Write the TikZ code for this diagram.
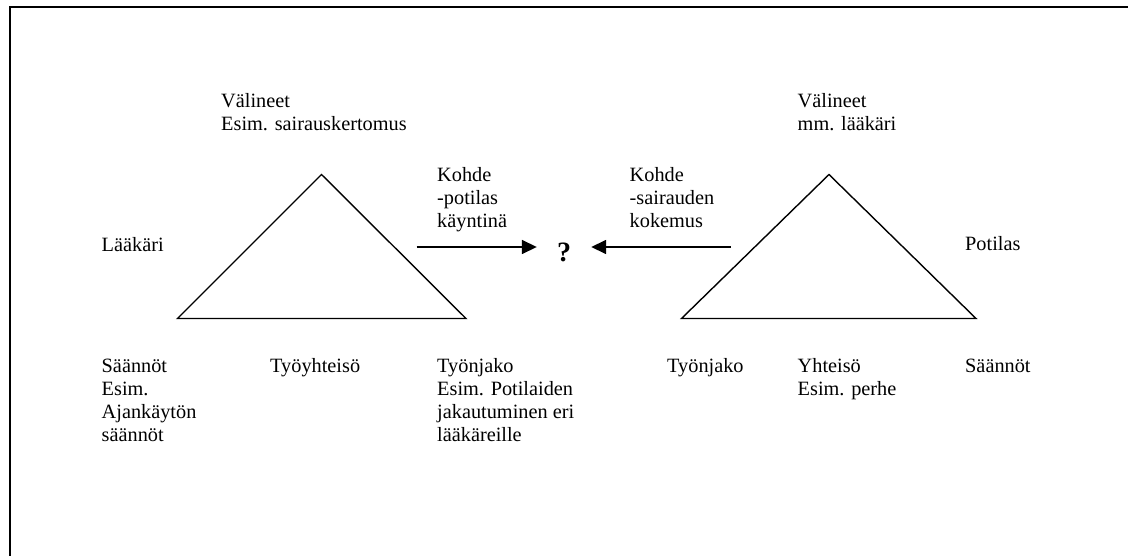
\documentclass[tikz,border=0pt]{standalone}
\usepackage{fontspec}
\setmainfont{Liberation Serif}
\usetikzlibrary{arrows.meta}
\begin{document}
\begin{tikzpicture}[x=1pt,y=-1pt,
  % multi-line labels are placed by the baseline of their last line
  lbl/.style={anchor=base west, align=left, inner sep=0pt,
    font=\fontsize{20.3}{23}\selectfont},
  tri/.style={draw=black, line width=1.4pt, line join=miter},
  link/.style={draw=black, line width=1.6pt, -{Triangle[length=15pt,width=14pt]}},
  frameline/.style={draw=black, line width=2.6pt}]
  \useasboundingbox (0,0) rectangle (1128,556);
  \fill[white] (0,0) rectangle (1128,556);

  % outer frame (only its top and left edges fall inside the page)
  \coordinate (fb) at (10,560);
  \coordinate (fc) at (10,7);
  \coordinate (fr) at (1132,7);
  \draw[frameline] (fb) -- (fc) -- (fr);

  % left activity triangle
  \coordinate (lt) at (321.5,174.5);
  \coordinate (ll) at (177.5,318.5);
  \coordinate (lr) at (466,318.5);
  \draw[tri] (lt) -- (lr) -- (ll) -- cycle;

  % right activity triangle
  \coordinate (rt) at (829,174.5);
  \coordinate (rl) at (681.5,318.5);
  \coordinate (rr) at (976,318.5);
  \draw[tri] (rt) -- (rr) -- (rl) -- cycle;

  % shared object
  \node[inner xsep=20pt, inner ysep=0pt, anchor=base,
    font=\fontsize{28}{30}\selectfont\bfseries] (q) at (564,262) {?};
  \coordinate (kl) at (416.5,247);
  \coordinate (kr) at (730.5,247);
  \draw[link] (kl) -- (kl -| q.west);
  \draw[link] (kr) -- (kr -| q.east);

  % labels of the left system
  \node[lbl] (lv) at (221,130.5) {Välineet\\Esim. sairauskertomus};
  \node[lbl] (ls) at (101.5,252) {Lääkäri};
  \node[lbl] (lk) at (437,228) {Kohde\\-potilas\\käyntinä};
  \node[lbl] (lsa) at (101.5,441) {Säännöt\\Esim.\\Ajankäytön\\säännöt};
  \node[lbl] (ly) at (270,372) {Työyhteisö};
  \node[lbl] (lj) at (437,441) {Työnjako\\Esim. Potilaiden\\jakautuminen eri\\lääkäreille};

  % labels of the right system
  \node[lbl] (rv) at (797.5,130.5) {Välineet\\mm. lääkäri};
  \node[lbl] (rs) at (965,251) {Potilas};
  \node[lbl] (rk) at (629.5,228) {Kohde\\-sairauden\\kokemus};
  \node[lbl] (rj) at (667,372) {Työnjako};
  \node[lbl] (ry) at (797.5,395) {Yhteisö\\Esim. perhe};
  \node[lbl] (rsa) at (965,372) {Säännöt};
\end{tikzpicture}
\end{document}
